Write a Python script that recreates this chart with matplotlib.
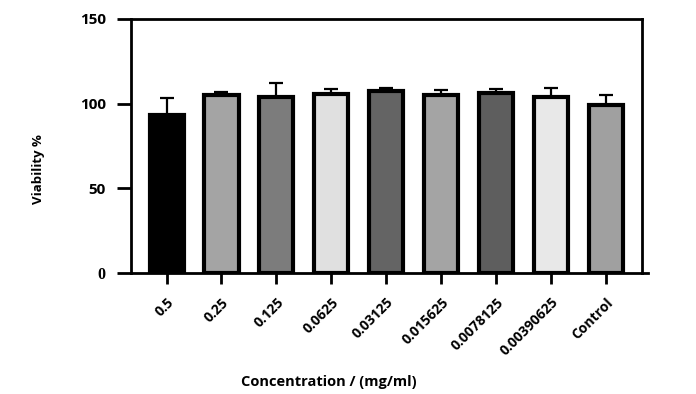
import matplotlib
matplotlib.use("Agg")
import matplotlib.pyplot as plt
from matplotlib.lines import Line2D

categories = ["0.5", "0.25", "0.125", "0.0625", "0.03125", "0.015625",
              "0.0078125", "0.00390625", "Control"]
viability = [93.5, 105.0, 103.8, 105.6, 107.6, 105.3, 106.3, 104.1, 99.3]
errors = [9.8, 1.8, 8.4, 3.0, 1.6, 2.8, 2.2, 5.2, 5.6]
colors = ["#000000", "#a4a4a4", "#7c7c7c", "#e0e0e0", "#646464",
          "#a4a4a4", "#5e5e5e", "#e8e8e8", "#a0a0a0"]
yticks = [0, 50, 100, 150]

fig = plt.figure(figsize=(6.96, 3.94), dpi=100)
ax = fig.add_axes([0.188, 0.307, 0.734, 0.645])

x = list(range(len(categories)))
ax.bar(x, viability, width=0.62, color=colors, edgecolor="black", linewidth=3.0,
       zorder=2)
ax.errorbar(x, viability, yerr=[[0]*len(errors), errors], fmt="none",
            ecolor="black", elinewidth=1.6, capsize=5, capthick=1.6, zorder=1)

ax.set_xlim(-0.65, len(categories) - 0.35)
ax.set_ylim(0, 150)
ax.set_yticks(yticks)
ax.set_yticklabels([str(v) for v in yticks])
ax.set_xticks(x)

for s in ax.spines.values():
    s.set_linewidth(2)
ax.tick_params(axis="y", length=10, width=2, pad=8)
ax.tick_params(axis="x", length=8, width=2, pad=8)

ax.set_xticklabels(categories, rotation=45, ha="right", rotation_mode="anchor",
                   fontsize=10, fontweight="bold", family="Open Sans")
for lbl in ax.get_yticklabels():
    lbl.set_fontweight("bold")
    lbl.set_fontsize(11)
    lbl.set_family("Open Sans")
ax.get_yticklabels()[0].set_family("Liberation Serif")
ax.get_yticklabels()[0].set_fontsize(11.5)

# small overhang of the bottom axis line beyond the right frame
ax.add_line(Line2D([1.0, 1.012], [0, 0], transform=ax.transAxes,
                   color="black", linewidth=2, clip_on=False))

fig.text(0.055, 0.57, "Viability %", rotation=90, ha="center", va="center",
         fontsize=9.5, fontweight="bold", family="Open Sans")
fig.text(0.473, 0.031, "Concentration / (mg/ml)", ha="center", va="center",
         fontsize=10.5, fontweight="bold", family="Open Sans")

fig.savefig("out.png", dpi=100)
